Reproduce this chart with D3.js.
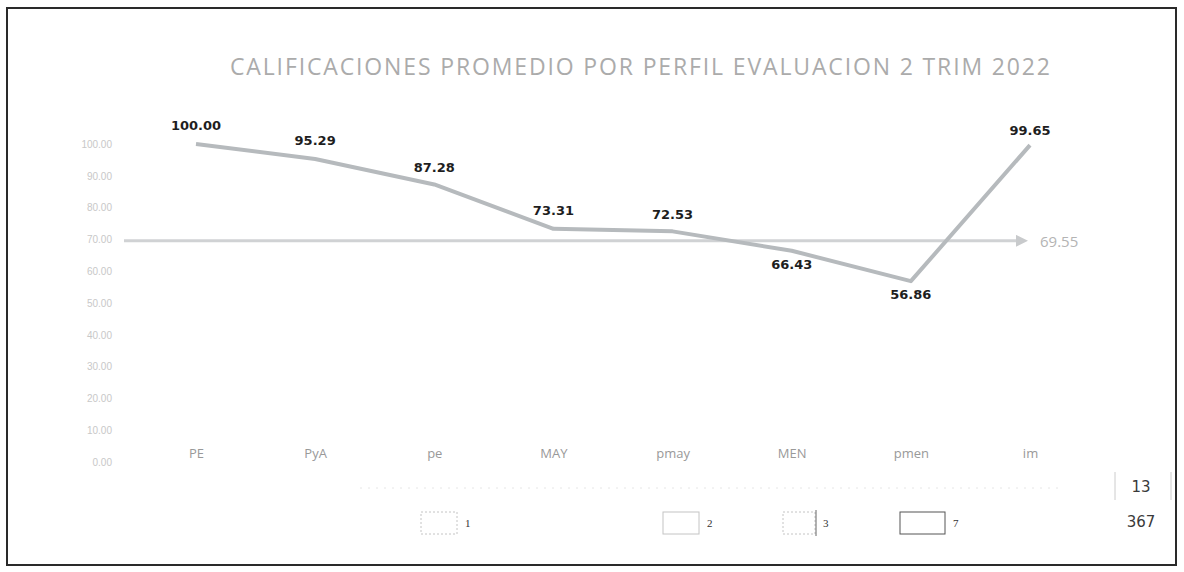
<!DOCTYPE html>
<html>
<head>
<meta charset="utf-8">
<script src="https://cdn.jsdelivr.net/npm/d3@7"></script>
<style>
  body { margin: 0; background: #fff; }
  svg { display: block; }
</style>
</head>
<body>
<svg id="chart" width="1184" height="572"></svg>
<script>
const title = "CALIFICACIONES PROMEDIO POR PERFIL EVALUACION 2 TRIM 2022";
const categories = ["PE", "PyA", "pe", "MAY", "pmay", "MEN", "pmen", "im"];
const scores = [100.00, 95.29, 87.28, 73.31, 72.53, 66.43, 56.86, 99.65];
const average = 69.55;
const yTicks = [0, 10, 20, 30, 40, 50, 60, 70, 80, 90, 100];
const legendKeys = ["1", "2", "3", "7"];
const sideNumbers = ["13", "367"];

const svg = d3.select('#chart');

// frame round the scanned chart
svg.append('rect')
  .attr('x', 7).attr('y', 8)
  .attr('width', 1169).attr('height', 557)
  .attr('fill', 'none')
  .attr('stroke', '#2a2a2a')
  .attr('stroke-width', 2);

svg.append('text')
  .attr('x', 640).attr('y', 75)
  .attr('text-anchor', 'middle')
  .attr('font-family', 'Open Sans, sans-serif')
  .attr('font-size', 23)
  .attr('fill', '#ababab')
  .attr('textLength', 820)
  .text(title);

const x = d3.scalePoint()
  .domain(categories)
  .range([196, 1030]);

const y = d3.scaleLinear()
  .domain([0, 100])
  .range([462, 144]);

// y axis, labels only
const yAxis = svg.append('g')
  .attr('transform', 'translate(116,0)')
  .call(d3.axisLeft(y).tickValues(yTicks).tickFormat(d3.format('.2f')).tickSize(0).tickPadding(4));
yAxis.select('.domain').remove();
yAxis.selectAll('text')
  .attr('font-family', 'Liberation Sans, sans-serif')
  .attr('font-size', 10)
  .attr('fill', '#c8c8c8');

// x axis, labels only
const xAxis = svg.append('g')
  .attr('transform', 'translate(0,445)')
  .call(d3.axisBottom(x).tickSize(0).tickPadding(4));
xAxis.select('.domain').remove();
xAxis.selectAll('text')
  .attr('font-family', 'Open Sans, sans-serif')
  .attr('font-size', 13)
  .attr('fill', '#999');

// faint dotted rule under the category labels
svg.append('line')
  .attr('x1', 360).attr('x2', 1060)
  .attr('y1', 488).attr('y2', 488)
  .attr('stroke', '#e6e6e6')
  .attr('stroke-dasharray', '2,6');

// average line with arrow
const defs = svg.append('defs');
defs.append('marker')
  .attr('id', 'arrow')
  .attr('viewBox', '0 0 10 10')
  .attr('refX', 5).attr('refY', 5)
  .attr('markerWidth', 4).attr('markerHeight', 4)
  .attr('orient', 'auto')
  .append('path')
  .attr('d', 'M0,0 L10,5 L0,10 z')
  .attr('fill', '#c8cacc');

svg.append('line')
  .attr('x1', 124).attr('x2', 1022)
  .attr('y1', y(average)).attr('y2', y(average))
  .attr('stroke', '#d0d2d4')
  .attr('stroke-width', 3)
  .attr('marker-end', 'url(#arrow)');

svg.append('text')
  .attr('x', 1040).attr('y', y(average) + 6)
  .attr('font-family', 'Open Sans, sans-serif')
  .attr('font-size', 15)
  .attr('fill', '#b4b4b4')
  .text(average.toFixed(2));

// score line
const line = d3.line()
  .x((d, i) => x(categories[i]))
  .y(d => y(d));

svg.append('path')
  .datum(scores)
  .attr('d', line)
  .attr('fill', 'none')
  .attr('stroke', '#b6babd')
  .attr('stroke-width', 4)
  .attr('stroke-linejoin', 'round');

// value labels
const labelOffset = [-14, -14, -12, -14, -12, 18, 18, -10];
svg.append('g')
  .selectAll('text')
  .data(scores)
  .join('text')
  .attr('x', (d, i) => x(categories[i]))
  .attr('y', (d, i) => y(d) + labelOffset[i])
  .attr('text-anchor', 'middle')
  .attr('font-family', 'DejaVu Sans, sans-serif')
  .attr('font-weight', 'bold')
  .attr('font-size', 13)
  .attr('fill', '#1e1e1e')
  .text(d => d.toFixed(2));

// leftover legend boxes from the sheet
const keyX = [421, 663, 783, 900];
const keyW = [36, 36, 32, 45];
const keys = svg.append('g');
keys.selectAll('rect')
  .data(legendKeys)
  .join('rect')
  .attr('x', (d, i) => keyX[i])
  .attr('y', 512)
  .attr('width', (d, i) => keyW[i])
  .attr('height', 22)
  .attr('fill', 'none')
  .attr('stroke', (d, i) => i === 3 ? '#555' : '#c4c4c4')
  .attr('stroke-width', 1)
  .attr('stroke-dasharray', (d, i) => i === 0 || i === 2 ? '2,2' : null);
keys.append('line')
  .attr('x1', 816).attr('x2', 816).attr('y1', 510).attr('y2', 536)
  .attr('stroke', '#666');
keys.selectAll('text')
  .data(legendKeys)
  .join('text')
  .attr('x', (d, i) => keyX[i] + keyW[i] + 8)
  .attr('y', 527)
  .attr('font-family', 'Liberation Serif, serif')
  .attr('font-size', 11)
  .attr('fill', '#333')
  .text(d => d);

// side cells
svg.append('line')
  .attr('x1', 1115).attr('x2', 1115).attr('y1', 472).attr('y2', 500)
  .attr('stroke', '#ccc');
svg.append('line')
  .attr('x1', 1171).attr('x2', 1171).attr('y1', 472).attr('y2', 500)
  .attr('stroke', '#ccc');
svg.selectAll('.side')
  .data(sideNumbers)
  .join('text')
  .attr('class', 'side')
  .attr('x', 1141)
  .attr('y', (d, i) => 492 + i * 35)
  .attr('text-anchor', 'middle')
  .attr('font-family', 'DejaVu Sans, sans-serif')
  .attr('font-size', 15)
  .attr('fill', '#3a3a3a')
  .text(d => d);
</script>
</body>
</html>
